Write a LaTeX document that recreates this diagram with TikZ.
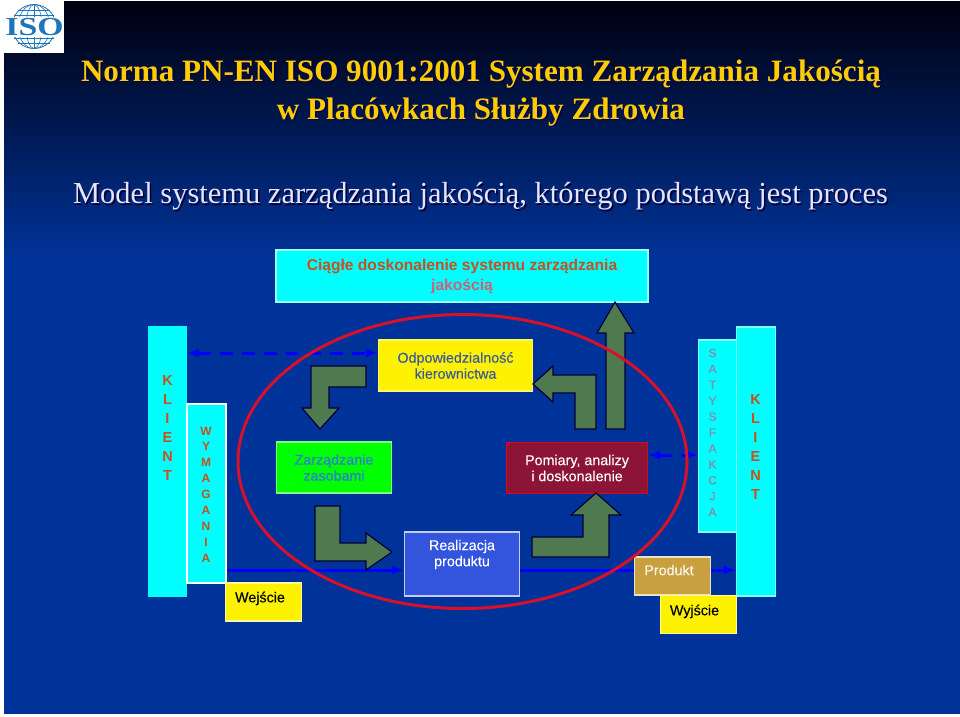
\documentclass[tikz,border=0pt]{standalone}
\usepackage{fontspec}
\setmainfont[FakeBold=0.25]{Liberation Sans}
\newfontfamily\boldfont{Liberation Sans Bold}
\newfontfamily\seriffont{Liberation Serif}
\definecolor{bgblue}{HTML}{003399}
\definecolor{bgdark}{HTML}{00000F}
\definecolor{aqua}{HTML}{00FFFF}
\definecolor{rust}{HTML}{C8501E}
\definecolor{rose}{HTML}{D0607A}
\definecolor{mauve}{HTML}{8888AA}
\definecolor{slate}{HTML}{3C5AA0}
\definecolor{azure}{HTML}{2E7FD0}
\definecolor{leaf}{HTML}{4F7A4F}
\definecolor{maroon}{HTML}{8C1438}
\definecolor{ochre}{HTML}{C8A040}
\definecolor{royal}{HTML}{3355DD}
\definecolor{ringred}{HTML}{D8102A}
\definecolor{gold}{HTML}{FFCC00}
\definecolor{isoblue}{HTML}{1F75BC}
\begin{document}
\begin{tikzpicture}[x=1pt,y=-1pt,
    panel/.style={inner sep=0pt,align=center,line width=1.5pt,font=\fontsize{14.3}{16}\selectfont},
    letters/.style={inner sep=0pt,align=center},
    flowarrow/.style={fill=leaf,draw=black!80!blue,line width=1.2pt,line join=miter},
    dashlink/.style={blue,line width=3pt,dash pattern=on 13pt off 9pt,<->,>=latex},
    solidlink/.style={blue,line width=3pt,->,>=latex},
    titlefont/.style={font=\seriffont\bfseries\fontsize{31.1}{38}\selectfont,align=center},
    subfont/.style={font=\seriffont\fontsize{30.5}{34}\selectfont}]
    \useasboundingbox (0,0) rectangle (960,716);
    \fill[white] (0,0) rectangle (960,716);
    \fill[top color=bgdark,bottom color=bgblue] (4,1) rectangle (960,260);
    \fill[bgblue] (4,260) rectangle (960,714);

    \fill[white] (4,1) rectangle (64,53);
    \begin{scope}
        \clip (4,1) rectangle (64,17) (4,37) rectangle (64,53);
        \draw[isoblue,line width=0.8pt] (34,26.5) circle (22);
        \draw[isoblue,line width=0.6pt] (34,26.5) ellipse (8 and 22);
        \draw[isoblue,line width=0.6pt] (34,26.5) ellipse (16 and 22);
        \draw[isoblue,line width=0.6pt] (34,4.5) -- (34,48.5);
        \draw[isoblue,line width=0.6pt] (18,10) -- (50,10);
        \draw[isoblue,line width=0.6pt] (14,15) -- (54,15);
        \draw[isoblue,line width=0.6pt] (14,38) -- (54,38);
        \draw[isoblue,line width=0.6pt] (18,43) -- (50,43);
    \end{scope}
    \node[isoblue,inner sep=0pt,font=\seriffont\bfseries\fontsize{26}{26}\selectfont,xscale=1.3] (isoLogo) at (34.5,27) {ISO};

    \node[titlefont,black!70!blue] (titleShade) at (482.5,94.5) {Norma PN-EN ISO 9001:2001 System Zarządzania Jakością\\w Placówkach Służby Zdrowia};
    \node[titlefont,gold] (titleText) at (481,93) {Norma PN-EN ISO 9001:2001 System Zarządzania Jakością\\w Placówkach Służby Zdrowia};
    \node[subfont,black!80!blue] (subShade) at (482,198) {Model systemu zarządzania jakością, którego podstawą jest proces};
    \node[subfont,white!90!blue] (subText) at (480.5,196.5) {Model systemu zarządzania jakością, którego podstawą jest proces};

    \node[panel,fill=aqua,draw=white!60!aqua,minimum width=372pt,minimum height=52pt,font=\boldfont\fontsize{15.6}{20}\selectfont,text=rust] (improve) at (462,276) {Ciągłe doskonalenie systemu zarządzania\\{\color{rose}jakością}};
    \node[panel,fill=aqua,draw=aqua,minimum width=38pt,minimum height=269pt] (clientIn) at (167.5,461.5) {};
    \node[panel,fill=aqua,draw=white,minimum width=39pt,minimum height=179pt] (needs) at (206.5,493.5) {};
    \node[panel,fill=yellow,draw=white!40!yellow,minimum width=154pt,minimum height=51pt,text=slate] (duty) at (455.5,365.5) {Odpowiedzialność\\kierownictwa};
    \node[panel,fill=green,draw=white!50!green,minimum width=115pt,minimum height=51pt,text=azure] (assets) at (334,467.5) {Zarządzanie\\zasobami};
    \node[panel,fill=royal,draw=white!70!royal,minimum width=115pt,minimum height=64pt,text=white] (make) at (462,564) {Realizacja\\produktu\\[6pt]\mbox{}};
    \node[panel,fill=maroon,draw=red!70!maroon,minimum width=141pt,minimum height=51pt,text=white] (measure) at (577,468) {Pomiary, analizy\\i doskonalenie};
    \node[panel,fill=aqua,draw=white!50!aqua,minimum width=38pt,minimum height=192pt] (pleased) at (717.5,436) {};
    \node[panel,fill=aqua,draw=white!50!aqua,minimum width=39pt,minimum height=269pt] (clientOut) at (756,461.5) {};
    \node[panel,fill=ochre,draw=white!70!ochre,minimum width=76pt,minimum height=38pt,text=white!90!ochre] (goods) at (672.5,576) {Produkt\kern7pt\\[-4pt]\mbox{}};
    \node[panel,fill=yellow,draw=white!60!yellow,minimum width=76pt,minimum height=38pt] (inlet) at (263.5,602) {Wejście\kern7pt\\[-6pt]\mbox{}};
    \node[panel,fill=yellow,draw=white!60!yellow,minimum width=76pt,minimum height=38pt] (outlet) at (698.5,614.5) {Wyjście\kern8pt\\[-7pt]\mbox{}};

    \node[letters,text=rust,font=\boldfont\fontsize{14.5}{19}\selectfont] (clientInText) at (167.5,428) {K\\L\\I\\E\\N\\T};
    \node[letters,text=rust,font=\boldfont\fontsize{12}{15.9}\selectfont] (needsText) at (206,494.5) {W\\Y\\M\\A\\G\\A\\N\\I\\A};
    \node[letters,text=mauve,font=\fontsize{12}{15.9}\selectfont] (pleasedText) at (712.5,432.5) {S\\A\\T\\Y\\S\\F\\A\\K\\C\\J\\A};
    \node[letters,text=rust,font=\boldfont\fontsize{14.5}{19}\selectfont] (clientOutText) at (755.5,447) {K\\L\\I\\E\\N\\T};

    \coordinate (dashTop) at (0,353);
    \coordinate (dashMid) at (0,455);
    \coordinate (flowLow) at (0,570);
    \draw[dashlink] (clientIn.east |- dashTop) -- (duty.west |- dashTop);
    \draw[dashlink] (measure.east |- dashMid) -- (pleased.west |- dashMid);
    \draw[solidlink] (needs.east |- flowLow) -- (make.west |- flowLow);
    \draw[solidlink,-] (make.east |- flowLow) -- (goods.west |- flowLow);
    \draw[solidlink] (goods.east |- flowLow) -- (clientOut.west |- flowLow);

    \draw[flowarrow] (311,366) -- (366,366) -- (366,387) -- (329,387) -- (329,408) -- (339,408) -- (320,429) -- (302,408) -- (311,408) -- cycle;
    \draw[flowarrow] (315,506) -- (340,506) -- (340,543) -- (366,543) -- (366,533) -- (392,552) -- (366,570) -- (366,561) -- (315,561) -- cycle;
    \draw[flowarrow] (532,537) -- (583,537) -- (583,515) -- (571,515) -- (596,493) -- (621,515) -- (609,515) -- (609,557) -- (532,557) -- cycle;
    \draw[flowarrow] (596,375) -- (596,429) -- (575,429) -- (575,393) -- (553,393) -- (553,402) -- (533,384) -- (553,366) -- (553,375) -- cycle;
    \draw[flowarrow] (606,429) -- (606,333) -- (597,333) -- (615,302) -- (634,333) -- (625,333) -- (625,429) -- cycle;

    \draw[ringred,line width=3pt] (462.5,461.5) ellipse (224.5 and 147);
\end{tikzpicture}
\end{document}
